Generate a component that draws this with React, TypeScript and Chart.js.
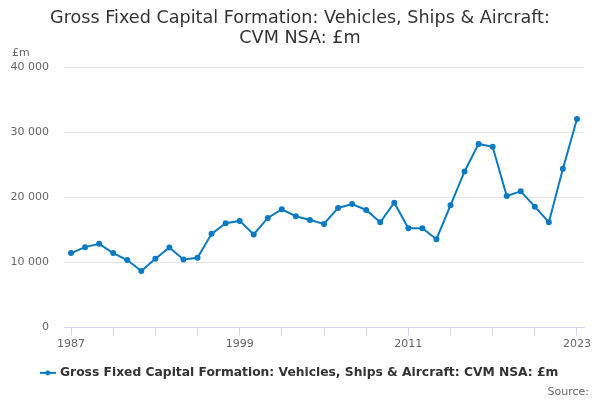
import { useEffect, useRef } from 'react';
import { Chart, registerables } from 'chart.js';

Chart.register(...registerables);

const years = [
  1987, 1988, 1989, 1990, 1991, 1992, 1993, 1994, 1995, 1996, 1997, 1998, 1999,
  2000, 2001, 2002, 2003, 2004, 2005, 2006, 2007, 2008, 2009, 2010, 2011, 2012,
  2013, 2014, 2015, 2016, 2017, 2018, 2019, 2020, 2021, 2022, 2023,
];

const gfcfVehicles = [
  11430, 12350, 12860, 11430, 10360, 8670, 10560, 12300, 10460, 10710, 14390,
  16020, 16380, 14290, 16840, 18160, 17100, 16530, 15920, 18370, 18980, 18060,
  16170, 19180, 15260, 15260, 13570, 18780, 23980, 28210, 27760, 20200, 20920,
  18570, 16170, 24390, 32040,
];

const seriesName = 'Gross Fixed Capital Formation: Vehicles, Ships & Aircraft: CVM NSA: £m';
const titleLines = ['Gross Fixed Capital Formation: Vehicles, Ships & Aircraft:', 'CVM NSA: £m'];
const yTicks = [0, 10000, 20000, 30000, 40000];

const FONT = "'DejaVu Sans', sans-serif";
const BLUE = '#0a7bc2';

const formatThousands = (v: number) => String(v).replace(/\B(?=(\d{3})+(?!\d))/g, ' ');

const makeLegendIcon = () => {
  const c = document.createElement('canvas');
  c.width = 16;
  c.height = 10;
  const g = c.getContext('2d');
  if (g) {
    g.strokeStyle = BLUE;
    g.lineWidth = 2;
    g.beginPath();
    g.moveTo(0, 5);
    g.lineTo(16, 5);
    g.stroke();
    g.fillStyle = BLUE;
    g.beginPath();
    g.arc(8, 5, 2.5, 0, Math.PI * 2);
    g.fill();
  }
  return c;
};

const extraText = {
  id: 'extraText',
  afterDraw(chart: Chart) {
    const { ctx, chartArea } = chart;
    ctx.save();
    ctx.font = `11px ${FONT}`;
    ctx.fillStyle = '#666666';
    ctx.textAlign = 'left';
    ctx.textBaseline = 'alphabetic';
    ctx.fillText('£m', 12, chartArea.top - 11);
    ctx.textAlign = 'right';
    ctx.fillText('Source:', 589, 395);
    ctx.restore();
  },
};

const App = () => {
  const chartRef = useRef<HTMLCanvasElement | null>(null);

  useEffect(() => {
    document.body.style.margin = '0';
    if (!chartRef.current) return;
    const ctx = chartRef.current.getContext('2d');
    if (!ctx) return;

    const icon = makeLegendIcon();

    const chart = new Chart(ctx, {
      type: 'line',
      data: {
        labels: years.map(String),
        datasets: [
          {
            label: seriesName,
            data: gfcfVehicles,
            borderColor: BLUE,
            backgroundColor: BLUE,
            borderWidth: 2,
            pointRadius: 2,
            pointHoverRadius: 3,
            tension: 0,
          },
        ],
      },
      options: {
        animation: false,
        responsive: true,
        maintainAspectRatio: false,
        layout: { padding: { left: 0, right: 0, top: 8, bottom: 11 } },
        scales: {
          x: {
            offset: true,
            border: { color: '#ccd6eb' },
            grid: {
              offset: false,
              drawOnChartArea: false,
              tickLength: 8,
              color: (c) => (c.index % 3 === 0 ? '#ccd6eb' : 'rgba(0,0,0,0)'),
            },
            ticks: {
              autoSkip: false,
              maxRotation: 0,
              color: '#666666',
              font: { family: FONT, size: 11 },
              padding: 2,
              callback: (_v, i) => (i % 12 === 0 ? years[i] : ''),
            },
          },
          y: {
            min: 0,
            max: 40000,
            border: { display: false },
            grid: { color: '#e6e6e6', drawTicks: false },
            afterBuildTicks: (axis) => {
              axis.ticks = yTicks.map((v) => ({ value: v }));
            },
            afterFit: (axis) => {
              axis.width = 64;
            },
            ticks: {
              padding: 15,
              color: '#666666',
              font: { family: FONT, size: 11 },
              callback: (v) => formatThousands(Number(v)),
            },
          },
          // empty right-hand spacer so the title and legend stay centred on the page
          spacer: {
            position: 'right',
            min: 0,
            max: 1,
            border: { display: false },
            grid: { drawOnChartArea: false, drawTicks: false },
            ticks: { display: false },
            afterFit: (axis) => {
              axis.width = 16;
            },
          },
        },
        plugins: {
          title: {
            display: true,
            text: titleLines,
            color: '#333333',
            font: { family: FONT, size: 17.6, weight: 'normal', lineHeight: 1.17 },
            padding: { top: 0, bottom: 18 },
          },
          legend: {
            position: 'bottom',
            labels: {
              usePointStyle: true,
              color: '#333333',
              font: { family: FONT, size: 12.3, weight: 'bold' },
              padding: 14,
              generateLabels: (ch) => [
                {
                  text: seriesName,
                  fillStyle: BLUE,
                  strokeStyle: BLUE,
                  pointStyle: icon,
                  datasetIndex: 0,
                  hidden: !ch.isDatasetVisible(0),
                  fontColor: '#333333',
                },
              ],
            },
          },
          tooltip: { enabled: false },
        },
      },
      plugins: [extraText],
    });

    return () => {
      chart.destroy();
    };
  }, []);

  return (
    <div style={{ width: 600, height: 400, position: 'relative' }}>
      <canvas ref={chartRef}></canvas>
    </div>
  );
};

export default App;
